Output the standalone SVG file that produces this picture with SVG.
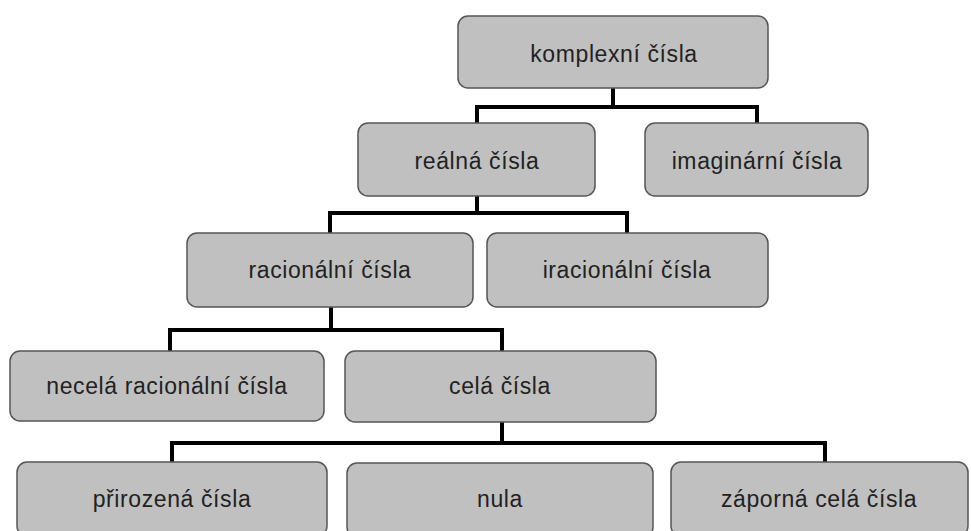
<svg xmlns="http://www.w3.org/2000/svg" width="971" height="531" viewBox="0 0 971 531">
<style>
.box{fill:#c0c0c0;stroke:#555;stroke-width:1.5}
.lbl{font-family:"Liberation Sans",Arial,sans-serif;font-size:23px;letter-spacing:0.6px;fill:#222;text-anchor:middle}
.con{fill:none;stroke:#000;stroke-width:4;stroke-linejoin:miter}
</style>
<rect width="971" height="531" fill="#fff"/>
<g id="connectors">
<path class="con" d="M613 88V107M477 123V107H757V123"/>
<path class="con" d="M477 196V213M330 233V213H627V233"/>
<path class="con" d="M331 307V330M170 351V330H502V351"/>
<path class="con" d="M502 422V443M172 462V443H825V462"/>
</g>
<g id="n-komplexni"><rect class="box" x="458" y="16" width="310" height="72" rx="10"/><text class="lbl" x="614" y="62">komplexní čísla</text></g>
<g id="n-realna"><rect class="box" x="358" y="123" width="237" height="73" rx="10"/><text class="lbl" x="477" y="169">reálná čísla</text></g>
<g id="n-imaginarni"><rect class="box" x="645" y="123" width="223" height="73" rx="10"/><text class="lbl" x="757" y="169">imaginární čísla</text></g>
<g id="n-racionalni"><rect class="box" x="187" y="233" width="286" height="74" rx="10"/><text class="lbl" x="330" y="278">racionální čísla</text></g>
<g id="n-iracionalni"><rect class="box" x="487" y="233" width="281" height="74" rx="10"/><text class="lbl" x="627" y="278">iracionální čísla</text></g>
<g id="n-necela"><rect class="box" x="10" y="351" width="314" height="70" rx="10"/><text class="lbl" x="167" y="394">necelá racionální čísla</text></g>
<g id="n-cela"><rect class="box" x="345" y="351" width="311" height="71" rx="10"/><text class="lbl" x="500" y="394">celá čísla</text></g>
<g id="n-prirozena"><rect class="box" x="17" y="462" width="310" height="74" rx="10"/><text class="lbl" x="172" y="507">přirozená čísla</text></g>
<g id="n-nula"><rect class="box" x="347" y="463" width="306" height="74" rx="10"/><text class="lbl" x="500" y="507">nula</text></g>
<g id="n-zaporna"><rect class="box" x="671" y="462" width="297" height="74" rx="10"/><text class="lbl" x="819" y="507">záporná celá čísla</text></g>
</svg>
